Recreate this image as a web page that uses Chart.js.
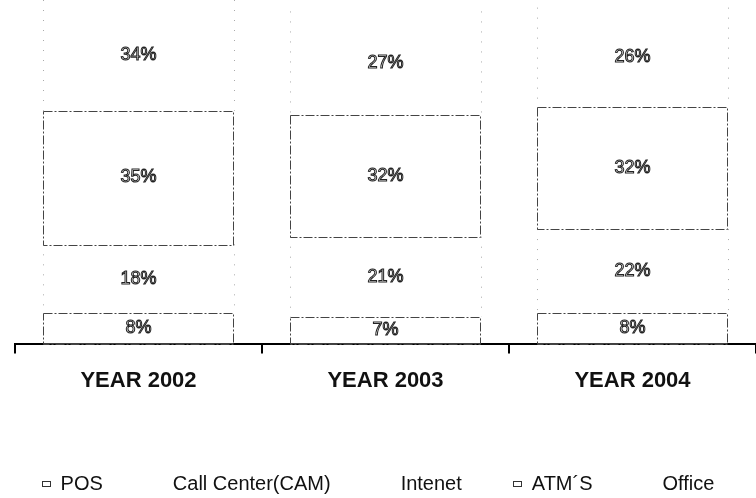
<!DOCTYPE html>
<html>
<head>
<meta charset="utf-8">
<script src="https://cdn.jsdelivr.net/npm/chart.js@4"></script>
<style>
  html, body { margin: 0; padding: 0; background: #fff; }
  #wrap { width: 756px; height: 498px; position: relative; }
</style>
</head>
<body>
<div id="wrap"><canvas id="channelChart"></canvas></div>
<script>
// 카테고리 / 시리즈 데이터
const years = ['YEAR 2002', 'YEAR 2003', 'YEAR 2004'];
const seriesNames = ['POS', 'Call Center(CAM)', 'Intenet', 'ATM´S', 'Office'];

const posShare = [8, 7, 8];
const callCenterShare = [18, 21, 22];
const internetShare = [35, 32, 32];
const atmShare = [34, 27, 26];
const officeShare = [5, 13, 12]; // 위쪽이 잘려서 보이지 않음 (추정값)

const outlined = [true, false, true, false, false];   // 점선 박스로 그려지는 시리즈
const legendBox = [true, false, false, true, false];  // 범례에 네모 표시

const fontFamily = '"Liberation Sans", Arial, sans-serif';

// 점선 테두리 + 외곽선 글자 라벨
const segmentPlugin = {
    id: 'segmentPlugin',
    afterDatasetsDraw(chart) {
        const ctx = chart.ctx;
        const area = chart.chartArea;
        ctx.save();
        chart.data.datasets.forEach(function(ds, di) {
            const meta = chart.getDatasetMeta(di);
            meta.data.forEach(function(bar, i) {
                const top = Math.max(bar.y, area.top);
                const bottom = bar.base;
                if (bottom - top <= 0) return;
                const left = bar.x - bar.width / 2;
                const right = bar.x + bar.width / 2;

                if (outlined[di]) {
                    ctx.strokeStyle = '#444';
                    ctx.lineWidth = 1;
                    ctx.setLineDash([9, 2, 2, 2]);
                    ctx.strokeRect(Math.round(left) + 0.5, Math.round(top) + 0.5,
                                   Math.round(right - left), Math.round(bottom - top));
                } else if (di < 4) {
                    // 흐릿한 옆 선
                    ctx.strokeStyle = '#aaa';
                    ctx.lineWidth = 1;
                    ctx.setLineDash([1, 9]);
                    ctx.beginPath();
                    ctx.moveTo(Math.round(left) + 0.5, top);
                    ctx.lineTo(Math.round(left) + 0.5, bottom);
                    ctx.moveTo(Math.round(right) + 0.5, top);
                    ctx.lineTo(Math.round(right) + 0.5, bottom);
                    ctx.stroke();
                }

                if (di < 4) {
                    ctx.setLineDash([]);
                    ctx.font = '18px ' + fontFamily;
                    ctx.textAlign = 'center';
                    ctx.textBaseline = 'middle';
                    ctx.lineWidth = 1;
                    ctx.strokeStyle = '#222';
                    ctx.fillStyle = '#fff';
                    const label = ds.data[i] + '%';
                    const cy = (top + bottom) / 2;
                    ctx.fillText(label, bar.x, cy);
                    ctx.strokeText(label, bar.x, cy);
                }
            });
        });
        ctx.restore();
    }
};

// 범례 (아래쪽, 항목 간격 고정)
const legendPlugin = {
    id: 'legendPlugin',
    afterDraw(chart) {
        const ctx = chart.ctx;
        ctx.save();
        ctx.font = '20px ' + fontFamily;
        ctx.textBaseline = 'middle';
        ctx.textAlign = 'left';
        const lead = 19, gap = 70, y = 484;
        const widths = seriesNames.map(n => ctx.measureText(n).width);
        const total = lead + widths.reduce((a, b) => a + b, 0) + gap * (widths.length - 1);
        let x = chart.width / 2 - total / 2 + lead;
        seriesNames.forEach(function(name, i) {
            if (legendBox[i]) {
                ctx.strokeStyle = '#333';
                ctx.lineWidth = 1;
                ctx.strokeRect(Math.round(x - lead) + 0.5, y - 2.5, 8, 5);
            }
            ctx.fillStyle = '#111';
            ctx.fillText(name, x, y);
            x += widths[i] + gap;
        });
        ctx.restore();
    }
};

const seriesValues = [posShare, callCenterShare, internetShare, atmShare, officeShare];

const ctx = document.getElementById('channelChart').getContext('2d');
window.channelChart = new Chart(ctx, {
    type: 'bar',
    data: {
        labels: years,
        datasets: seriesNames.map(function(name, i) {
            return {
                label: name,
                data: seriesValues[i],
                backgroundColor: '#ffffff',
                borderWidth: 0,
                barPercentage: 0.77,
                categoryPercentage: 1.0
            };
        })
    },
    options: {
        responsive: true,
        maintainAspectRatio: false,
        animation: false,
        devicePixelRatio: 1,
        layout: { padding: { left: 15, right: 0, top: 0, bottom: 90 } },
        scales: {
            x: {
                stacked: true,
                offset: true,
                border: { display: true, color: '#000', width: 2 },
                grid: {
                    offset: true,
                    drawOnChartArea: false,
                    drawTicks: true,
                    tickLength: 10,
                    color: '#000',
                    lineWidth: 2
                },
                ticks: {
                    color: '#111',
                    padding: 14,
                    font: { family: fontFamily, size: 22, weight: 'bold' }
                }
            },
            y: {
                stacked: true,
                display: false,
                min: 0,
                max: 90
            }
        },
        plugins: {
            tooltip: { enabled: false },
            legend: { display: false }
        }
    },
    plugins: [segmentPlugin, legendPlugin]
});
</script>
</body>
</html>
